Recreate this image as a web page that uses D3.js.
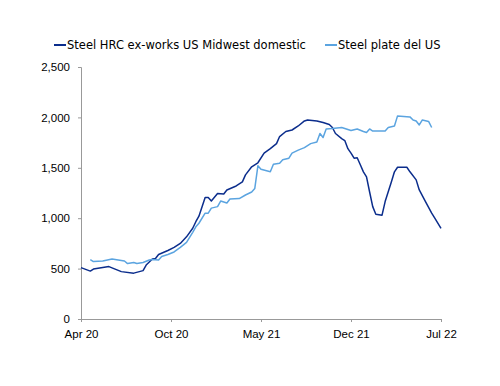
<!DOCTYPE html>
<html>
<head>
<meta charset="utf-8">
<script src="https://cdn.jsdelivr.net/npm/d3@7"></script>
<style>
  body { margin: 0; background: #fff; }
  svg { display: block; }
</style>
</head>
<body>
<svg id="chart"></svg>
<script>
// series names
const seriesNames = ["Steel HRC ex-works US Midwest domestic", "Steel plate del US"];

// week index (0 = early Apr 2020) and values
const hrcWeeks = [0, 3, 4, 9, 13, 17, 20, 21, 23, 24, 25, 28, 30, 32, 34, 36, 37, 38, 40, 41, 42, 44, 46, 47, 50, 52, 53, 55, 57, 59, 61, 63, 64, 66, 68, 70, 72, 73, 76, 78, 80, 81, 82, 84, 85, 86, 87, 88, 89, 90, 91, 92, 93, 94, 95, 97, 98, 100, 101, 102, 105, 106, 108, 109, 111, 113, 114, 116];
const hrcValues = [510, 475, 495, 520, 470, 455, 480, 535, 595, 600, 640, 680, 710, 750, 815, 900, 965, 1020, 1205, 1205, 1170, 1245, 1240, 1280, 1320, 1360, 1430, 1510, 1550, 1645, 1690, 1740, 1810, 1860, 1875, 1915, 1965, 1975, 1965, 1950, 1930, 1900, 1840, 1790, 1770, 1690, 1645, 1595, 1600, 1530, 1460, 1410, 1260, 1115, 1040, 1030, 1165, 1360, 1460, 1505, 1505, 1460, 1380, 1280, 1165, 1050, 1000, 900];

const plateWeeks = [3, 4, 7, 10, 12, 14, 15, 17, 18, 20, 22, 23, 25, 26, 28, 30, 32, 34, 35, 36, 37, 38, 40, 41, 42, 44, 45, 47, 48, 51, 53, 55, 56, 57, 58, 61, 62, 64, 65, 67, 68, 70, 72, 74, 76, 77, 78, 79, 81, 84, 87, 89, 91, 92, 93, 94, 98, 99, 101, 102, 106, 107, 108, 109, 110, 112, 113];
const plateValues = [590, 570, 575, 595, 585, 575, 550, 560, 550, 560, 585, 590, 585, 620, 640, 665, 710, 760, 810, 860, 915, 950, 1050, 1050, 1100, 1115, 1170, 1150, 1190, 1195, 1230, 1260, 1295, 1520, 1485, 1460, 1535, 1545, 1580, 1595, 1645, 1675, 1700, 1740, 1755, 1840, 1800, 1885, 1890, 1900, 1870, 1885, 1860, 1850, 1885, 1865, 1865, 1900, 1915, 2015, 2005, 1975, 1965, 1925, 1975, 1960, 1900];

// category-axis ticks
const tickWeeks = [0, 29, 58, 87, 116];
const tickLabels = ["Apr 20", "Oct 20", "May 21", "Dec 21", "Jul 22"];
const yTicks = [0, 500, 1000, 1500, 2000, 2500];

const colors = ["#0b2d8c", "#5ba4e0"];

const width = 500, height = 386;
const margin = {top: 67, right: 59, bottom: 67, left: 81};

const svg = d3.select("#chart")
  .attr("width", width)
  .attr("height", height)
  .style("font-family", "Tahoma, 'DejaVu Sans', sans-serif");

const x = d3.scaleLinear([0, 116], [margin.left, width - margin.right]);
const y = d3.scaleLinear([0, 2500], [height - margin.bottom, margin.top]);

// y axis
svg.append("g")
  .attr("transform", `translate(${margin.left},0)`)
  .call(d3.axisLeft(y).tickValues(yTicks).tickSize(3).tickPadding(8).tickFormat(d3.format(",")))
  .call(g => g.selectAll("path, line").attr("stroke", "#999"))
  .call(g => g.selectAll("text").attr("fill", "#000").style("font-size", "11.5px"));

// x axis
svg.append("g")
  .attr("transform", `translate(0,${height - margin.bottom})`)
  .call(d3.axisBottom(x).tickValues(tickWeeks).tickSize(3).tickPadding(8)
    .tickFormat((d, i) => tickLabels[i]))
  .call(g => g.selectAll("path, line").attr("stroke", "#999"))
  .call(g => g.selectAll("text").attr("fill", "#000").style("font-size", "11.5px"));

const line = d3.line()
  .x(d => x(d[0]))
  .y(d => y(d[1]));

const series = [
  d3.zip(hrcWeeks, hrcValues),
  d3.zip(plateWeeks, plateValues)
];

svg.append("g")
  .selectAll("path")
  .data(series)
  .join("path")
  .attr("fill", "none")
  .attr("stroke", (d, i) => colors[i])
  .attr("stroke-width", 1.5)
  .attr("stroke-linejoin", "round")
  .attr("d", line);

// legend
const legendX = [54, 325];
const legend = svg.append("g")
  .selectAll("g")
  .data(seriesNames)
  .join("g")
  .attr("transform", (d, i) => `translate(${legendX[i]},45)`);

legend.append("line")
  .attr("x1", 0).attr("x2", 12)
  .attr("stroke", (d, i) => colors[i])
  .attr("stroke-width", 2);

legend.append("text")
  .attr("x", 13)
  .attr("dy", "0.35em")
  .style("font-size", "11.5px")
  .text(d => d);
</script>
</body>
</html>
